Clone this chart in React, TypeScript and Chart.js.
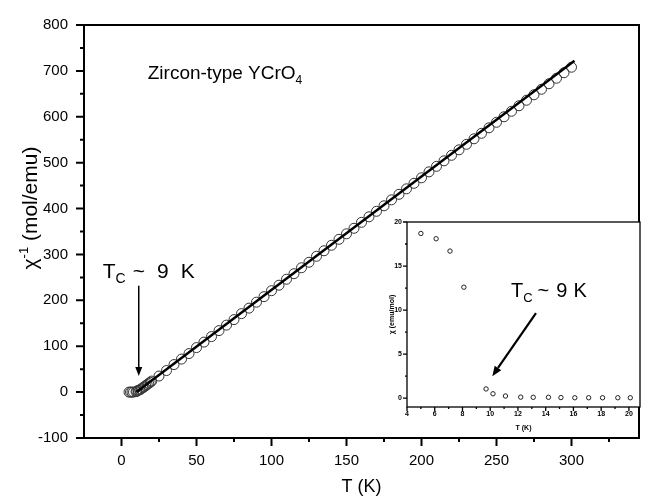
import React, { useEffect, useRef } from 'react';
import { Chart, registerables } from 'chart.js';
Chart.register(...registerables);

const FONT = '"Liberation Sans", Arial, Helvetica, sans-serif';

// ---------- main panel data: inverse susceptibility vs T ----------
const mainT = [5, 6, 7, 8, 9.7, 10.2, 11.1, 12.2, 13.1, 14.2, 15.1, 16.1, 17.1, 18.1, 19.2, 20.1,
  25, 30, 35, 40, 45, 50, 55, 60, 65, 70, 75, 80, 85, 90, 95, 100, 105, 110, 115, 120, 125, 130,
  135, 140, 145, 150, 155, 160, 165, 170, 175, 180, 185, 190, 195, 200, 205, 210, 215, 220, 225,
  230, 235, 240, 245, 250, 255, 260, 265, 270, 275, 280, 285, 290, 295, 300];
const mainInvChi = [0.05, 0.06, 0.06, 0.08, 1.0, 2.0, 3.8, 5, 7, 9.5, 11.5, 14, 16.5, 19, 21.5, 24,
  35, 47, 60, 72, 84, 97, 109, 121, 134, 146, 158, 171, 183, 196, 208, 221, 233, 246, 258, 271, 283, 296,
  308, 320, 333, 345, 357, 370, 382, 394, 406, 419, 431, 443, 455, 467, 480, 492, 504, 516, 528,
  540, 552, 564, 576, 588, 600, 612, 624, 636, 648, 660, 672, 684, 696, 708];
const fitT = [10, 302];
const fitInvChi = [0, 722];

const mainXTicks = [0, 50, 100, 150, 200, 250, 300];
const mainXMinor = [25, 75, 125, 175, 225, 275, 325];
const mainYTicks = [-100, 0, 100, 200, 300, 400, 500, 600, 700, 800];
const mainYMinor = [-50, 50, 150, 250, 350, 450, 550, 650, 750];

// ---------- inset data: susceptibility vs T ----------
const insetT = [5.0, 6.1, 7.1, 8.1, 9.7, 10.2, 11.1, 12.2, 13.1, 14.2, 15.1, 16.1, 17.1, 18.1, 19.2, 20.1];
const insetChi = [18.7, 18.1, 16.7, 12.6, 1.05, 0.5, 0.25, 0.12, 0.1, 0.1, 0.07, 0.05, 0.05, 0.05, 0.05, 0.05];
const insetXTicks = [4, 6, 8, 10, 12, 14, 16, 18, 20];
const insetXMinor = [5, 7, 9, 11, 13, 15, 17, 19];
const insetYTicks = [0, 5, 10, 15, 20];
const insetYMinor = [2.5, 7.5, 12.5, 17.5];

type Part = { text: string; size: number; dy?: number; gap?: number };

function drawRich(ctx: CanvasRenderingContext2D, x: number, y: number, parts: Part[]) {
  let cx = x;
  for (const p of parts) {
    cx += p.gap || 0;
    ctx.font = `${p.size}px ${FONT}`;
    ctx.fillText(p.text, cx, y + (p.dy || 0));
    cx += ctx.measureText(p.text).width;
  }
}

function drawArrow(ctx: CanvasRenderingContext2D, x1: number, y1: number, x2: number, y2: number, w: number, head: number, hw: number) {
  const ang = Math.atan2(y2 - y1, x2 - x1);
  const bx = x2 - head * Math.cos(ang);
  const by = y2 - head * Math.sin(ang);
  ctx.save();
  ctx.strokeStyle = '#000';
  ctx.fillStyle = '#000';
  ctx.lineWidth = w;
  ctx.beginPath();
  ctx.moveTo(x1, y1);
  ctx.lineTo(bx, by);
  ctx.stroke();
  ctx.beginPath();
  ctx.moveTo(x2, y2);
  ctx.lineTo(bx + hw * Math.sin(ang), by - hw * Math.cos(ang));
  ctx.lineTo(bx - hw * Math.sin(ang), by + hw * Math.cos(ang));
  ctx.closePath();
  ctx.fill();
  ctx.restore();
}

function drawFrameAndTicks(chart: any, lw: number, major: number, minor: number,
  xt: number[], xm: number[], yt: number[], ym: number[]) {
  const { ctx, chartArea: a, scales } = chart;
  const xs = scales.x, ys = scales.y;
  ctx.save();
  ctx.strokeStyle = '#000';
  ctx.lineWidth = lw;
  ctx.strokeRect(a.left, a.top, a.right - a.left, a.bottom - a.top);
  ctx.beginPath();
  for (const v of xt) { const px = xs.getPixelForValue(v); ctx.moveTo(px, a.bottom); ctx.lineTo(px, a.bottom + major); }
  for (const v of xm) { const px = xs.getPixelForValue(v); if (px > a.right) continue; ctx.moveTo(px, a.bottom); ctx.lineTo(px, a.bottom + minor); }
  for (const v of yt) { const py = ys.getPixelForValue(v); ctx.moveTo(a.left, py); ctx.lineTo(a.left - major, py); }
  for (const v of ym) { const py = ys.getPixelForValue(v); ctx.moveTo(a.left, py); ctx.lineTo(a.left - minor, py); }
  ctx.stroke();
  ctx.restore();
}

const mainPlugin = {
  id: 'mainDecor',
  afterDraw(chart: any) {
    const { ctx, scales } = chart;
    const xs = scales.x, ys = scales.y;
    drawFrameAndTicks(chart, 2, 8, 4, mainXTicks, mainXMinor, mainYTicks, mainYMinor);
    ctx.save();
    ctx.fillStyle = '#000';
    ctx.textBaseline = 'alphabetic';
    ctx.textAlign = 'left';
    // sample name
    drawRich(ctx, xs.getPixelForValue(17.5), ys.getPixelForValue(683), [
      { text: 'Zircon-type YCrO', size: 19 },
      { text: '4', size: 12, dy: 5 },
    ]);
    // Tc label
    drawRich(ctx, xs.getPixelForValue(-12.5), ys.getPixelForValue(248), [
      { text: 'T', size: 21 },
      { text: 'C', size: 14, dy: 5 },
      { text: '~', size: 21, gap: 7 },
      { text: '9', size: 21, gap: 12 },
      { text: 'K', size: 21, gap: 12 },
    ]);
    drawArrow(ctx, xs.getPixelForValue(11.5), ys.getPixelForValue(232), xs.getPixelForValue(11.5), ys.getPixelForValue(35), 1.5, 9, 3.5);
    // y title
    ctx.translate(37, 208);
    ctx.rotate(-Math.PI / 2);
    const big = 21, small = 13;
    ctx.font = `${big}px ${FONT}`;
    const p1 = 'χ', p2 = '-1', p3 = ' (mol/emu)';
    const w1 = ctx.measureText(p1).width;
    const w3 = ctx.measureText(p3).width;
    ctx.font = `${small}px ${FONT}`;
    const w2 = ctx.measureText(p2).width;
    const total = w1 + w2 + w3;
    let cx = -total / 2;
    ctx.font = `${big}px ${FONT}`;
    ctx.fillText(p1, cx, 0); cx += w1;
    ctx.font = `${small}px ${FONT}`;
    ctx.fillText(p2, cx, -9); cx += w2;
    ctx.font = `${big}px ${FONT}`;
    ctx.fillText(p3, cx, 0);
    ctx.restore();
  },
};

const insetPlugin = {
  id: 'insetDecor',
  beforeDraw(chart: any) {
    const { ctx, chartArea: a } = chart;
    ctx.save();
    ctx.fillStyle = '#fff';
    ctx.fillRect(a.left, a.top, a.right - a.left, a.bottom - a.top);
    ctx.restore();
  },
  afterDraw(chart: any) {
    const { ctx, scales } = chart;
    const xs = scales.x, ys = scales.y;
    drawFrameAndTicks(chart, 1.3, 4, 2, insetXTicks, insetXMinor, insetYTicks, insetYMinor);
    ctx.save();
    ctx.fillStyle = '#000';
    ctx.textBaseline = 'alphabetic';
    ctx.textAlign = 'left';
    drawRich(ctx, xs.getPixelForValue(11.5), ys.getPixelForValue(11.5), [
      { text: 'T', size: 20 },
      { text: 'C', size: 13, dy: 5 },
      { text: '~', size: 20, gap: 5 },
      { text: '9', size: 20, gap: 7 },
      { text: 'K', size: 20, gap: 6 },
    ]);
    drawArrow(ctx, xs.getPixelForValue(13.3), ys.getPixelForValue(9.66), xs.getPixelForValue(10.15), ys.getPixelForValue(2.5), 2.2, 10, 4);
    ctx.restore();
  },
};

const fixTicks = (vals: number[]) => (s: any) => { s.ticks = vals.map((v) => ({ value: v })); };

export default function App() {
  const mainRef = useRef<HTMLCanvasElement>(null);
  const insetRef = useRef<HTMLCanvasElement>(null);

  useEffect(() => {
    document.body.style.margin = '0';
    const mainChart = new Chart(mainRef.current!, {
      type: 'scatter',
      data: {
        datasets: [
          {
            label: 'fit',
            data: fitT.map((t, i) => ({ x: t, y: fitInvChi[i] })),
            showLine: true,
            borderColor: '#000',
            borderWidth: 2.5,
            pointRadius: 0,
            order: 0,
          },
          {
            label: 'data',
            data: mainT.map((t, i) => ({ x: t, y: mainInvChi[i] })),
            showLine: false,
            pointStyle: 'circle',
            pointRadius: 5,
            borderColor: '#333',
            borderWidth: 1,
            backgroundColor: 'rgba(0,0,0,0)',
            order: 1,
          },
        ],
      },
      options: {
        responsive: false,
        animation: false,
        layout: { padding: { left: 0, top: 20, right: 4, bottom: 0 } },
        plugins: { legend: { display: false }, tooltip: { enabled: false } },
        scales: {
          x: {
            type: 'linear',
            min: -25,
            max: 345,
            afterBuildTicks: fixTicks(mainXTicks),
            afterFit: (s: any) => { s.height = 62; },
            grid: { display: false, drawTicks: false },
            border: { display: false },
            ticks: { color: '#000', padding: 14, font: { family: FONT, size: 15 } },
            title: { display: true, text: 'T (K)', color: '#000', font: { family: FONT, size: 18 }, padding: { top: 0, bottom: 2 } },
          },
          y: {
            type: 'linear',
            min: -100,
            max: 800,
            afterBuildTicks: fixTicks(mainYTicks),
            afterFit: (s: any) => { s.width = 84; },
            grid: { display: false, drawTicks: false },
            border: { display: false },
            ticks: { color: '#000', padding: 16, font: { family: FONT, size: 15 } },
          },
        },
      },
      plugins: [mainPlugin],
    });

    const insetChart = new Chart(insetRef.current!, {
      type: 'scatter',
      data: {
        datasets: [
          {
            label: 'chi',
            data: insetT.map((t, i) => ({ x: t, y: insetChi[i] })),
            showLine: false,
            pointStyle: 'circle',
            pointRadius: 2.2,
            borderColor: '#222',
            borderWidth: 1,
            backgroundColor: 'rgba(0,0,0,0)',
          },
        ],
      },
      options: {
        responsive: false,
        animation: false,
        layout: { padding: { left: 0, top: 10, right: 5, bottom: 0 } },
        plugins: { legend: { display: false }, tooltip: { enabled: false } },
        scales: {
          x: {
            type: 'linear',
            min: 4,
            max: 20.8,
            afterBuildTicks: fixTicks(insetXTicks),
            afterFit: (s: any) => { s.height = 33; },
            grid: { display: false, drawTicks: false },
            border: { display: false },
            ticks: { color: '#000', padding: 3, maxRotation: 0, font: { family: FONT, size: 7, weight: 'bold' } },
            title: { display: true, text: 'T (K)', color: '#000', font: { family: FONT, size: 7, weight: 'bold' }, padding: { top: 0, bottom: 8 } },
          },
          y: {
            type: 'linear',
            min: -1,
            max: 20,
            afterBuildTicks: fixTicks(insetYTicks),
            afterFit: (s: any) => { s.width = 29; },
            grid: { display: false, drawTicks: false },
            border: { display: false },
            ticks: { color: '#000', padding: 5, font: { family: FONT, size: 7, weight: 'bold' } },
            title: { display: true, text: 'χ (emu/mol)', color: '#000', font: { family: FONT, size: 7, weight: 'bold' }, padding: { top: 10, bottom: 0 } },
          },
        },
      },
      plugins: [insetPlugin],
    });

    return () => {
      mainChart.destroy();
      insetChart.destroy();
    };
  }, []);

  return (
    <div style={{ position: 'fixed', left: 0, top: 0, width: 645, height: 500, background: '#fff' }}>
      <canvas ref={mainRef} width={645} height={500} style={{ position: 'absolute', left: 0, top: 0 }} />
      <canvas ref={insetRef} width={267} height={228} style={{ position: 'absolute', left: 378, top: 212 }} />
    </div>
  );
}
